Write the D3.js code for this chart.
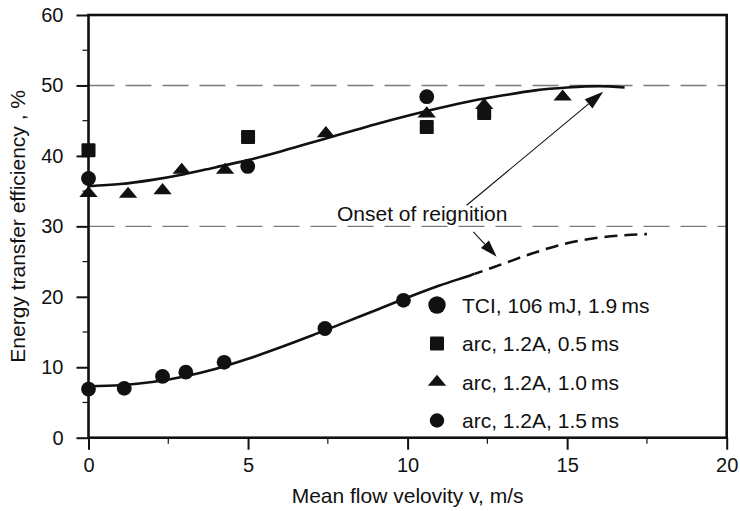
<!DOCTYPE html>
<html>
<head>
<meta charset="utf-8">
<script src="https://cdn.jsdelivr.net/npm/d3@7"></script>
<style>
  html, body { margin: 0; padding: 0; background: #fff; }
  svg { display: block; }
  text { font-family: "Liberation Sans", Arial, Helvetica, sans-serif; fill: #111; }
</style>
</head>
<body>
<svg id="chart" width="740" height="511"></svg>
<script>
// ---------- data ----------
const xTicks = [0, 5, 10, 15, 20];
const yTicks = [0, 10, 20, 30, 40, 50, 60];
const xMinor = [2.5, 7.5, 12.5, 17.5];
const yMinor = [5, 15, 25, 35, 45, 55];
const refLevels = [50, 30];

const tciX = [0, 1.12, 2.32, 3.05, 4.25, 7.41, 9.87];
const tciY = [6.9, 7.0, 8.7, 9.3, 10.7, 15.5, 19.5];

const arc05X = [0, 5.0, 10.6, 12.4];
const arc05Y = [40.8, 42.7, 44.1, 46.1];

const arc10X = [0, 1.24, 2.32, 2.92, 4.28, 7.44, 10.6, 12.4, 14.86];
const arc10Y = [34.7, 34.6, 35.1, 38.0, 38.0, 43.2, 46.0, 47.2, 48.4];

const arc15X = [0, 4.99, 10.6];
const arc15Y = [36.8, 38.5, 48.4];

const upperFitX = [0, 1, 2, 3, 4, 5, 6, 7, 8, 9, 10, 11, 12, 13, 14, 15, 16, 16.8];
const upperFitY = [35.7, 36.0, 36.6, 37.4, 38.4, 39.4, 40.6, 41.9, 43.2, 44.5, 45.7, 46.8, 47.8, 48.6, 49.3, 49.7, 49.9, 49.7];

// lower fit: solid up to lowerSolidEnd, dashed beyond
const lowerFitX = [0, 1, 2, 3, 4, 5, 6, 7, 8, 9, 10, 11, 12, 13, 14, 15, 16, 17, 17.5];
const lowerFitY = [7.3, 7.45, 7.9, 8.7, 9.8, 11.2, 12.8, 14.5, 16.3, 18.1, 19.9, 21.6, 23.1, 24.7, 26.3, 27.6, 28.4, 28.8, 28.9];
const lowerSolidEnd = 12.1;

const legendLabels = ["TCI, 106 mJ, 1.9\u2009ms", "arc, 1.2A, 0.5\u2009ms", "arc, 1.2A, 1.0\u2009ms", "arc, 1.2A, 1.5\u2009ms"];
const legendShapes = ["bigcircle", "square", "triangle", "circle"];

const annotationText = "Onset of reignition";
const arrowUp = [[11.85, 33.0], [16.13, 49.1]];
const arrowDown = [[12.06, 29.2], [12.79, 25.7]];

// ---------- layout ----------
const L = 88.5, R = 726.7, T = 15, B = 437.7;
const svg = d3.select("#chart");
const x = d3.scaleLinear().domain([0, 20]).range([L, R]);
const y = d3.scaleLinear().domain([0, 60]).range([B, T]);
const zip = (xs, ys) => xs.map((v, i) => [v, ys[i]]);

// clip paths for the solid / dashed split
const defs = svg.append("defs");
defs.append("clipPath").attr("id", "solidPart").append("rect")
  .attr("x", 0).attr("y", 0).attr("width", x(lowerSolidEnd)).attr("height", 511);
defs.append("clipPath").attr("id", "dashPart").append("rect")
  .attr("x", x(lowerSolidEnd)).attr("y", 0).attr("width", 740).attr("height", 511);

// reference dashed lines
svg.selectAll("line.ref").data(refLevels).join("line")
  .attr("x1", x(0)).attr("x2", x(20))
  .attr("y1", d => y(d)).attr("y2", d => y(d))
  .attr("stroke", "#7a7a7a").attr("stroke-width", 1.4)
  .attr("stroke-dasharray", "26,11");

// axes
const tickFont = "20px";
const xAxis = d3.axisBottom(x).tickValues(xTicks).tickSize(12).tickPadding(8).tickFormat(d3.format("d"));
const gx = svg.append("g").attr("transform", `translate(0,${B})`).call(xAxis);
gx.selectAll("text").style("font-size", tickFont).attr("fill", "#111");
gx.append("g").selectAll("line").data(xMinor).join("line")
  .attr("x1", d => x(d)).attr("x2", d => x(d)).attr("y1", 0).attr("y2", 6)
  .attr("stroke", "#111").attr("stroke-width", 1.2);

const yAxis = d3.axisLeft(y).tickValues(yTicks).tickSize(12).tickPadding(13).tickFormat(d3.format("d"));
const gy = svg.append("g").attr("transform", `translate(${L},0)`).call(yAxis);
gy.selectAll("text").style("font-size", tickFont).attr("fill", "#111");
gy.append("g").selectAll("line").data(yMinor).join("line")
  .attr("x1", -6).attr("x2", 0).attr("y1", d => y(d)).attr("y2", d => y(d))
  .attr("stroke", "#111").attr("stroke-width", 1.2);

[gx, gy].forEach(g => {
  g.select(".domain").remove();
  g.selectAll(".tick line").attr("stroke", "#111").attr("stroke-width", 2);
});

// frame
svg.append("rect").attr("x", L).attr("y", T).attr("width", R - L).attr("height", B - T)
  .attr("fill", "none").attr("stroke", "#111").attr("stroke-width", 2.6);

// axis titles
svg.append("text").attr("x", (L + R) / 2).attr("y", 503).attr("text-anchor", "middle")
  .style("font-size", "21px").text("Mean flow velovity v, m/s");
svg.append("text").attr("transform", `translate(25,${(T + B) / 2}) rotate(-90)`).attr("text-anchor", "middle")
  .style("font-size", "21px").text("Energy transfer efficiency , %");

// fit curves
const line = d3.line().x(d => x(d[0])).y(d => y(d[1])).curve(d3.curveMonotoneX);
svg.append("path").attr("d", line(zip(upperFitX, upperFitY)))
  .attr("fill", "none").attr("stroke", "#111").attr("stroke-width", 2.6);
const lowerD = line(zip(lowerFitX, lowerFitY));
svg.append("path").attr("d", lowerD).attr("clip-path", "url(#solidPart)")
  .attr("fill", "none").attr("stroke", "#111").attr("stroke-width", 2.6);
svg.append("path").attr("d", lowerD).attr("clip-path", "url(#dashPart)")
  .attr("fill", "none").attr("stroke", "#111").attr("stroke-width", 2.6)
  .attr("stroke-dasharray", "13,7");

// markers
const shapes = {
  bigcircle: g => g.append("circle").attr("r", 8.7),
  circle: g => g.append("circle").attr("r", 7.2),
  plotcircle: g => g.append("circle").attr("r", 7.4),
  square: g => g.append("rect").attr("x", -7).attr("y", -7).attr("width", 14).attr("height", 14).attr("rx", 1),
  triangle: g => g.append("path").attr("d", "M0,-7.3 L9.2,3.8 L-9.2,3.8 Z")
};
function drawSeries(xs, ys, shape) {
  const g = svg.append("g").attr("fill", "#111");
  zip(xs, ys).forEach(p => {
    const s = g.append("g").attr("transform", `translate(${x(p[0])},${y(p[1])})`);
    shapes[shape](s);
  });
}
drawSeries(arc05X, arc05Y, "square");
drawSeries(arc10X, arc10Y, "triangle");
drawSeries(arc15X, arc15Y, "plotcircle");
drawSeries(tciX, tciY, "plotcircle");

// legend
const legX = 437, legY0 = 305, legDy = 38.5, legTextX = 462;
legendLabels.forEach((lab, i) => {
  const cy = legY0 + i * legDy;
  const s = svg.append("g").attr("fill", "#111").attr("transform", `translate(${legX},${cy})`);
  shapes[legendShapes[i]](s);
  svg.append("text").attr("x", legTextX).attr("y", cy + 7.5).style("font-size", "21px").text(lab);
});

// annotation
svg.append("text").attr("x", 337).attr("y", 221).style("font-size", "21px").text(annotationText);
function arrow(pts, headLen, headHalf) {
  const [x0, y0] = [x(pts[0][0]), y(pts[0][1])];
  const [x1, y1] = [x(pts[1][0]), y(pts[1][1])];
  const ang = Math.atan2(y1 - y0, x1 - x0);
  const bx = x1 - headLen * Math.cos(ang), by = y1 - headLen * Math.sin(ang);
  svg.append("line").attr("x1", x0).attr("y1", y0).attr("x2", bx).attr("y2", by)
    .attr("stroke", "#111").attr("stroke-width", 1.1);
  const px = -Math.sin(ang) * headHalf, py = Math.cos(ang) * headHalf;
  svg.append("path").attr("d", `M${x1},${y1} L${bx + px},${by + py} L${bx - px},${by - py} Z`).attr("fill", "#111");
}
arrow(arrowUp, 19, 6);
arrow(arrowDown, 17, 5.5);
</script>
</body>
</html>
